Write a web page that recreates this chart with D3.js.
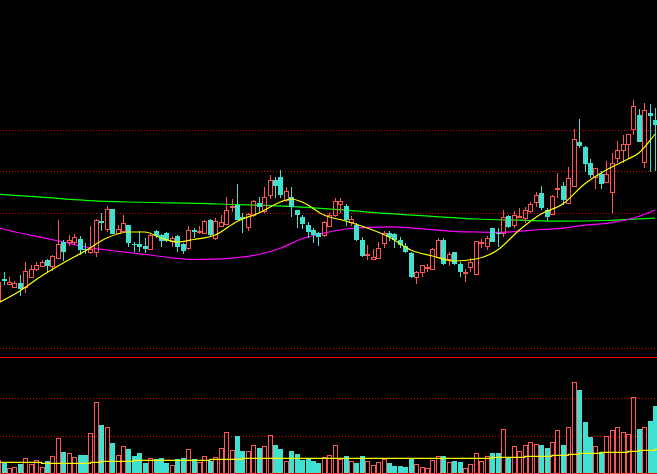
<!DOCTYPE html>
<html>
<head>
<meta charset="utf-8">
<script src="https://cdn.jsdelivr.net/npm/d3@7/dist/d3.min.js"></script>
<style>
  html, body { margin: 0; padding: 0; background: #000; overflow: hidden; }
  svg { display: block; }
</style>
</head>
<body>
<div id="chart"></div>
<script>
const width = 657;
const height = 474;
const priceBottom = 357;
const volTop = 361;
const volBottom = 473;

const upColor = '#ff5454';
const downColor = '#40e0d0';
const gridColor = '#e60000';
const axisColor = '#ff0000';

// daily bars, oldest first
const openPrices = [11.00, 11.21, 11.16, 11.13, 11.17, 11.13, 11.23, 11.31, 11.34, 11.40,
  11.34, 11.42, 11.58, 11.58, 11.58, 11.61, 11.51, 11.48, 11.48, 11.79,
  11.71, 11.91, 11.67, 11.69, 11.75, 11.56, 11.56, 11.54, 11.51, 11.69,
  11.65, 11.67, 11.59, 11.64, 11.56, 11.52, 11.70, 11.68, 11.67, 11.80,
  11.62, 11.74, 11.76, 11.93, 11.95, 11.83, 11.73, 11.85, 11.97, 11.89,
  12.05, 12.20, 12.23, 12.00, 12.03, 11.90, 11.83, 11.75, 11.70, 11.67,
  11.65, 11.74, 11.85, 11.96, 11.94, 11.78, 11.75, 11.60, 11.45, 11.41,
  11.42, 11.57, 11.67, 11.66, 11.60, 11.54, 11.47, 11.23, 11.28, 11.32,
  11.31, 11.43, 11.60, 11.41, 11.48, 11.36, 11.27, 11.33, 11.26, 11.57,
  11.54, 11.72, 11.67, 11.67, 11.84, 11.75, 11.83, 11.82, 11.89, 11.98,
  12.07, 11.90, 11.86, 12.11, 12.14, 11.97, 12.14, 12.58, 12.53, 12.37,
  12.23, 12.26, 12.18, 12.08, 12.42, 12.50, 12.56, 12.71, 12.85, 12.38,
  12.87, 12.80];
const highPrices = [11.20, 11.28, 11.23, 11.19, 11.25, 11.38, 11.35, 11.38, 11.40, 11.41,
  11.45, 11.80, 11.60, 11.65, 11.66, 11.64, 11.57, 11.74, 11.81, 11.87,
  11.94, 11.91, 11.75, 11.85, 11.75, 11.58, 11.69, 11.62, 11.66, 11.70,
  11.66, 11.68, 11.64, 11.65, 11.57, 11.74, 11.72, 11.74, 11.80, 11.81,
  11.82, 11.85, 12.03, 12.01, 12.16, 11.87, 11.87, 12.00, 12.03, 12.13,
  12.25, 12.23, 12.30, 12.13, 12.13, 11.90, 11.85, 11.78, 11.72, 11.68,
  11.79, 11.87, 12.02, 12.02, 11.96, 11.84, 11.77, 11.63, 11.55, 11.51,
  11.58, 11.69, 11.69, 11.67, 11.63, 11.57, 11.48, 11.29, 11.35, 11.36,
  11.52, 11.62, 11.62, 11.48, 11.48, 11.38, 11.31, 11.42, 11.59, 11.61,
  11.64, 11.72, 11.72, 11.90, 11.85, 11.89, 11.92, 11.93, 11.98, 12.08,
  12.14, 11.92, 12.05, 12.27, 12.18, 12.33, 12.71, 12.81, 12.54, 12.41,
  12.32, 12.29, 12.39, 12.47, 12.59, 12.65, 12.66, 13.00, 12.91, 12.97,
  12.96, 12.92];
const lowPrices = [10.97, 11.15, 11.15, 11.12, 11.04, 11.07, 11.22, 11.29, 11.33, 11.28,
  11.29, 11.41, 11.39, 11.54, 11.55, 11.45, 11.46, 11.46, 11.43, 11.69,
  11.68, 11.66, 11.66, 11.68, 11.53, 11.48, 11.48, 11.47, 11.50, 11.62,
  11.53, 11.58, 11.53, 11.48, 11.46, 11.50, 11.62, 11.66, 11.66, 11.64,
  11.60, 11.73, 11.75, 11.88, 11.80, 11.67, 11.69, 11.83, 11.87, 11.87,
  12.01, 12.02, 12.02, 11.98, 11.83, 11.72, 11.71, 11.62, 11.57, 11.54,
  11.63, 11.73, 11.83, 11.87, 11.74, 11.74, 11.59, 11.43, 11.40, 11.40,
  11.42, 11.52, 11.59, 11.52, 11.52, 11.47, 11.22, 11.16, 11.23, 11.28,
  11.30, 11.42, 11.35, 11.34, 11.35, 11.23, 11.18, 11.28, 11.25, 11.52,
  11.50, 11.58, 11.53, 11.63, 11.72, 11.72, 11.82, 11.77, 11.87, 11.93,
  11.90, 11.79, 11.85, 12.02, 11.95, 11.96, 12.14, 12.52, 12.28, 12.22,
  12.11, 12.11, 12.17, 11.87, 12.37, 12.37, 12.42, 12.65, 12.58, 12.32,
  12.28, 12.29];
const closePrices = [11.18, 11.19, 11.18, 11.17, 11.11, 11.29, 11.31, 11.35, 11.38, 11.34,
  11.44, 11.56, 11.48, 11.60, 11.63, 11.50, 11.50, 11.51, 11.80, 11.77,
  11.91, 11.66, 11.71, 11.77, 11.57, 11.55, 11.53, 11.51, 11.65, 11.64,
  11.59, 11.59, 11.62, 11.53, 11.49, 11.70, 11.68, 11.69, 11.79, 11.65,
  11.79, 11.78, 11.90, 11.94, 11.80, 11.81, 11.86, 11.99, 11.93, 12.03,
  12.20, 12.14, 12.05, 12.09, 11.93, 11.85, 11.76, 11.68, 11.65, 11.63,
  11.78, 11.85, 11.99, 11.99, 11.80, 11.81, 11.60, 11.44, 11.46, 11.43,
  11.52, 11.67, 11.63, 11.60, 11.55, 11.48, 11.23, 11.28, 11.35, 11.33,
  11.51, 11.60, 11.36, 11.46, 11.36, 11.28, 11.28, 11.38, 11.59, 11.58,
  11.62, 11.58, 11.66, 11.83, 11.73, 11.85, 11.84, 11.90, 11.96, 12.05,
  11.92, 11.83, 12.04, 12.12, 12.00, 12.22, 12.61, 12.54, 12.36, 12.25,
  12.32, 12.16, 12.26, 12.37, 12.50, 12.56, 12.66, 12.94, 12.58, 12.90,
  12.84, 12.75];
const volumes = [13, 9.7, 4.7, 5.7, 9, 14.7, 8.7, 12.7, 5.7, 12,
  16.7, 34.7, 21, 19.7, 15.7, 18, 18, 39.7, 70.7, 48,
  45.7, 30, 17.7, 26.7, 24, 17, 20, 10, 14.7, 14,
  15, 10, 7.7, 14, 15, 23.7, 14, 11, 16.7, 12,
  15.7, 24.7, 40.7, 22.7, 37, 22, 21.7, 27.7, 24.7, 26.7,
  37.7, 28, 24, 11.7, 22, 19, 13.3, 14, 12, 10,
  15.7, 17.7, 27.7, 13.7, 16.7, 11.7, 10, 16.7, 11.7, 7.7,
  10.7, 13.7, 9.7, 7, 7, 5.7, 14, 8.7, 5.7, 4.7,
  13, 17, 17, 10.7, 12, 11, 4.7, 8.7, 20, 12,
  16.7, 20, 20, 44, 15.7, 27, 22, 28, 31, 29,
  28, 25, 31, 43, 28, 46, 90.7, 83, 51, 36,
  27, 21, 37, 43, 46, 41, 39, 76, 44, 46,
  52, 67];

// moving averages at selected bars
const maShortIdx = [0, 4, 8, 12, 16, 20, 24, 27, 30, 33, 36, 40, 44, 48, 52, 54, 56, 60, 64, 68,
  72, 76, 80, 84, 88, 92, 96, 100, 104, 108, 112, 116, 118, 120, 121];
const maShort = [10.97, 11.09, 11.24, 11.37, 11.49, 11.62, 11.68, 11.68, 11.62, 11.58, 11.605, 11.65,
  11.785, 11.87, 11.98, 12.01, 11.98, 11.85, 11.79, 11.72, 11.63, 11.50, 11.44, 11.39, 11.41,
  11.50, 11.70, 11.86, 11.96, 12.16, 12.30, 12.41, 12.47, 12.59, 12.66];
const maLongIdx = [0, 8, 16, 24, 32, 40, 48, 56, 64, 72, 80, 88, 96, 104, 112, 120, 121];
const maLong = [12.057, 12.028, 11.997, 11.98, 11.972, 11.961, 11.948, 11.928, 11.898, 11.863,
  11.837, 11.81, 11.798, 11.788, 11.795, 11.817, 11.82];
const maMidIdx = [0, 4, 8, 12, 16, 20, 24, 28, 32, 36, 40, 44, 48, 52, 56, 60, 64, 68, 72, 76,
  80, 84, 88, 92, 96, 100, 104, 108, 112, 116, 118, 120, 121];
const maMid = [11.725, 11.67, 11.627, 11.58, 11.53, 11.50, 11.475, 11.45, 11.421, 11.405, 11.408,
  11.424, 11.455, 11.518, 11.612, 11.668, 11.71, 11.727, 11.732, 11.722, 11.703, 11.686, 11.68,
  11.676, 11.688, 11.705, 11.718, 11.748, 11.767, 11.805, 11.837, 11.878, 11.90];
const volMaIdx = [0, 8, 17, 19, 25, 39, 45, 91, 97, 102, 105, 107, 111, 116, 118, 121];
const volMa = [10.7, 9.7, 10.7, 11.7, 12.7, 13.7, 14.7, 15.7, 16.7, 17.7, 18.7, 19.7, 20.7, 21.7,
  22.7, 23.7];

const priceGrid = [12.70, 12.29, 11.87, 10.52];
const volumeGrid = [37, 75];

const svg = d3.select('#chart')
  .append('svg')
  .attr('width', width)
  .attr('height', height)
  .style('background', '#000');

const xScale = d3.scaleLinear()
  .domain([0, openPrices.length - 1])
  .range([-1.9, 655.1]);

const yPrice = d3.scaleLinear()
  .domain([10.43, 14])
  .range([priceBottom, 0]);

const yVol = d3.scaleLinear()
  .domain([0, volBottom - volTop])
  .range([volBottom, volTop]);

function drawGrid() {
  const g = svg.append('g').attr('class', 'grid').attr('shape-rendering', 'crispEdges');
  g.selectAll('.price-grid')
    .data(priceGrid)
    .join('line')
    .attr('x1', 0).attr('x2', width)
    .attr('y1', d => Math.round(yPrice(d)) + 0.5)
    .attr('y2', d => Math.round(yPrice(d)) + 0.5)
    .attr('stroke', gridColor)
    .attr('stroke-dasharray', '1,2');

  g.selectAll('.vol-grid')
    .data(volumeGrid)
    .join('line')
    .attr('x1', 0).attr('x2', width)
    .attr('y1', d => Math.round(yVol(d)) + 0.5)
    .attr('y2', d => Math.round(yVol(d)) + 0.5)
    .attr('stroke', gridColor)
    .attr('stroke-dasharray', '1,2');

  // pane separators
  [priceBottom, volBottom].forEach(y => {
    g.append('line')
      .attr('x1', 0).attr('x2', width)
      .attr('y1', y + 0.5).attr('y2', y + 0.5)
      .attr('stroke', axisColor);
  });
}

function drawCandles() {
  const bars = openPrices.map((o, i) => ({
    i, o, h: highPrices[i], l: lowPrices[i], c: closePrices[i], up: closePrices[i] >= o
  }));
  const g = svg.append('g').attr('class', 'candles').attr('shape-rendering', 'crispEdges');

  bars.forEach(d => {
    const cx = Math.round(xScale(d.i));
    const top = Math.round(yPrice(Math.max(d.o, d.c)));
    const bottom = Math.round(yPrice(Math.min(d.o, d.c)));
    const hy = Math.round(yPrice(d.h));
    const ly = Math.round(yPrice(d.l));
    const color = d.up ? upColor : downColor;

    if (d.up) {
      if (hy < top) {
        g.append('line').attr('x1', cx + 0.5).attr('x2', cx + 0.5)
          .attr('y1', hy).attr('y2', top).attr('stroke', color);
      }
      if (ly > bottom) {
        g.append('line').attr('x1', cx + 0.5).attr('x2', cx + 0.5)
          .attr('y1', bottom).attr('y2', ly).attr('stroke', color);
      }
      g.append('rect')
        .attr('x', cx - 2 + 0.5).attr('y', top + 0.5)
        .attr('width', 4).attr('height', Math.max(bottom - top, 0))
        .attr('fill', 'none').attr('stroke', color);
    } else {
      g.append('line').attr('x1', cx + 0.5).attr('x2', cx + 0.5)
        .attr('y1', hy).attr('y2', ly).attr('stroke', color);
      g.append('rect')
        .attr('x', cx - 2).attr('y', top)
        .attr('width', 5).attr('height', Math.max(bottom - top, 1))
        .attr('fill', color);
    }
  });
}

function drawVolumes() {
  const g = svg.append('g').attr('class', 'volumes').attr('shape-rendering', 'crispEdges');
  volumes.forEach((v, i) => {
    const cx = Math.round(xScale(i));
    const top = Math.round(yVol(v));
    const up = closePrices[i] >= openPrices[i];
    if (up) {
      g.append('rect')
        .attr('x', cx - 2 + 0.5).attr('y', top + 0.5)
        .attr('width', 4).attr('height', volBottom - top)
        .attr('fill', 'none').attr('stroke', upColor);
    } else {
      g.append('rect')
        .attr('x', cx - 2).attr('y', top)
        .attr('width', 5).attr('height', volBottom - top)
        .attr('fill', downColor);
    }
  });
}

function drawLine(idx, values, yScale, color, curve) {
  const pts = idx.map((i, k) => [xScale(i), yScale(values[k])]);
  svg.append('path')
    .datum(pts)
    .attr('fill', 'none')
    .attr('stroke', color)
    .attr('stroke-width', 1.2)
    .attr('d', d3.line().curve(curve));
}

drawGrid();
drawLine(maLongIdx, maLong, yPrice, '#00ff00', d3.curveMonotoneX);
drawLine(maMidIdx, maMid, yPrice, '#ff00ff', d3.curveMonotoneX);
drawCandles();
drawLine(maShortIdx, maShort, yPrice, '#ffff00', d3.curveMonotoneX);
drawVolumes();
drawLine(volMaIdx.concat([122]), volMa.concat([volMa[volMa.length - 1]]), yVol, '#ffff00', d3.curveStepAfter);
</script>
</body>
</html>
